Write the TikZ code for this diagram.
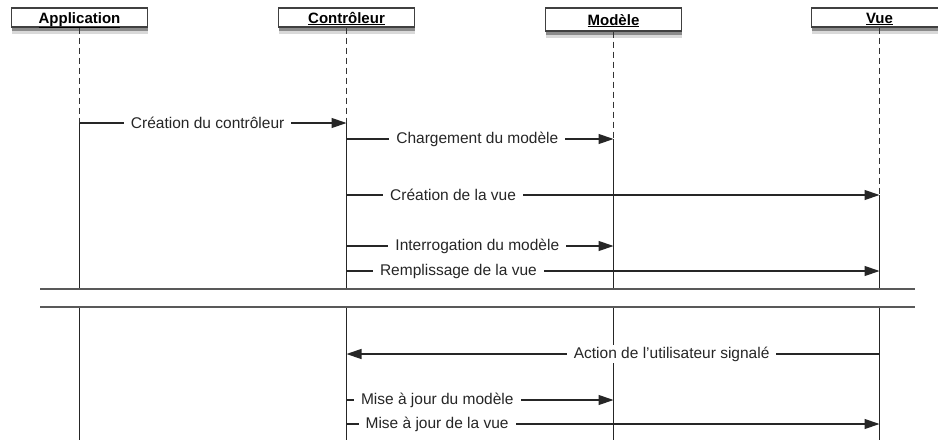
\documentclass[tikz,border=0pt]{standalone}
\usepackage{fontspec}
\setmainfont{Liberation Sans}
\usetikzlibrary{arrows.meta, shadows}

\tikzset{
  objet/.style={draw=black!75, line width=1.2pt, fill=white, minimum width=136pt,
    minimum height=19pt, inner sep=0pt, text height=12.5pt, text depth=1.5pt,
    font=\fontsize{15}{18}\selectfont\bfseries,
    drop shadow={opacity=0.25, fill=black!60, shadow xshift=0pt, shadow yshift=-7pt},
    drop shadow={opacity=0.55, fill=black!70, shadow xshift=0.5pt, shadow yshift=-4pt}},
  vie/.style={black!80, line width=0.9pt, dash pattern=on 6pt off 4pt},
  active/.style={black!85, line width=1.2pt},
  msg/.style={black!85, line width=1.2pt, -{Triangle[length=15pt,width=10pt]}},
  txt/.style={fill=white, inner xsep=7pt, inner ysep=2pt},
  sep/.style={black!65, line width=1.3pt}
}

\begin{document}
\begin{tikzpicture}[x=1pt, y=-1pt, font=\fontsize{15.5}{18}\selectfont]
    \useasboundingbox (0,0) rectangle (938,440);

    % Objects
    \node[objet] (app) at (79.5,17.5) {\underline{Application}};
    \node[objet] (ctrl) at (346.5,17.5) {\underline{Contrôleur}};
    \node[objet, minimum height=23pt] (mod) at (613.5,19.5) {\underline{Modèle}};
    \node[objet] (vue) at (879.5,17.5) {\underline{Vue}};

    % Lifelines: dashed until first message, then solid, cut by the break
    \foreach \n/\y in {app/123, ctrl/123, mod/139, vue/195} {
        \draw[vie] (\n.south) -- (\n |- 0,\y);
        \draw[active] (\n |- 0,\y) -- (\n |- 0,289);
        \draw[active] (\n |- 0,307) -- (\n |- 0,440);
    }

    % Break between the two phases
    \draw[sep] (40,289) -- (915,289);
    \draw[sep] (40,307) -- (915,307);

    % Messages
    \draw[msg] (app |- 0,123) -- node[txt, pos=.48] {Création du contrôleur} (ctrl |- 0,123);
    \draw[msg] (ctrl |- 0,139) -- node[txt, pos=.49] {Chargement du modèle} (mod |- 0,139);
    \draw[msg] (ctrl |- 0,195) -- node[txt, pos=.2] {Création de la vue} (vue |- 0,195);
    \draw[msg] (ctrl |- 0,246) -- node[txt, pos=.49] {Interrogation du modèle} (mod |- 0,246);
    \draw[msg] (ctrl |- 0,271) -- node[txt, pos=.21] {Remplissage de la vue} (vue |- 0,271);

    \draw[msg] (vue |- 0,354) -- node[txt, pos=.39] {Action de l'utilisateur signalé} (ctrl |- 0,354);
    \draw[msg] (ctrl |- 0,400) -- node[txt, pos=.34] {Mise à jour du modèle} (mod |- 0,400);
    \draw[msg] (ctrl |- 0,424) -- node[txt, pos=.17] {Mise à jour de la vue} (vue |- 0,424);
\end{tikzpicture}
\end{document}
